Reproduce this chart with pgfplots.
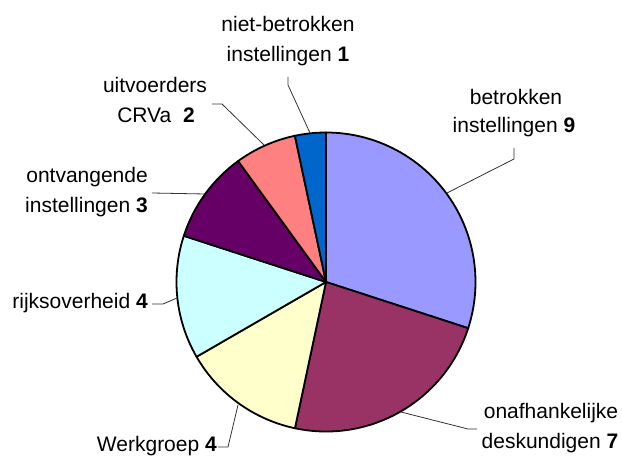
\documentclass[border=0pt]{standalone}
\usepackage{pgfplots}
\pgfplotsset{compat=1.18}
\usepackage{fontspec}
\setmainfont{Liberation Sans}
\definecolor{cA}{HTML}{9999FF}
\definecolor{cB}{HTML}{993366}
\definecolor{cC}{HTML}{FFFFCC}
\definecolor{cD}{HTML}{CCFFFF}
\definecolor{cE}{HTML}{660066}
\definecolor{cF}{HTML}{FF8080}
\definecolor{cG}{HTML}{0066CC}
\definecolor{lead}{HTML}{333333}
\tikzset{lbl/.style={inner sep=0pt,font=\fontsize{21}{25}\selectfont}}
\begin{document}
\begin{tikzpicture}
\begin{axis}[x=1pt,y=1pt,xmin=0,xmax=622,ymin=0,ymax=457,y dir=reverse,
  hide axis,clip=false,scale only axis]
% slices: value/colour, total 30, start at top, clockwise
\foreach \v/\c [remember=\e as \s (initially 90)] in {9/cA,7/cB,4/cC,4/cD,3/cE,2/cF,1/cG}{
  \pgfmathsetmacro\e{\s-\v/30*360}
  \edef\temp{\noexpand\filldraw[fill=\c,draw=black,line width=1.8pt,line join=round]
    (axis cs:326,282) -- ++(\s:149.5pt) arc[start angle=\s,end angle=\e,radius=149.5pt] -- cycle;}
  \temp
}
% leader lines
\addplot[lead,line width=0.8pt] coordinates {(514,148) (514,159) (447,193)};
\addplot[lead,line width=0.8pt] coordinates {(401,412) (468,429) (477,429)};
\addplot[lead,line width=0.8pt] coordinates {(218,447) (228,447) (238,405)};
\addplot[lead,line width=0.8pt] coordinates {(152,304) (163,304) (177,298)};
\addplot[lead,line width=0.8pt] coordinates {(152,193) (205,194)};
\addplot[lead,line width=0.8pt] coordinates {(212,104) (222,104) (264,145)};
\addplot[lead,line width=0.8pt] coordinates {(288,77) (288,85) (310,133)};
% labels
\node[lbl,anchor=base] at (axis cs:516,105) {betrokken};
\node[lbl,anchor=base] at (axis cs:514,133) {instellingen \textbf{9}};
\node[lbl,anchor=base] at (axis cs:551,419) {onafhankelijke};
\node[lbl,anchor=base] at (axis cs:550,449) {deskundigen \textbf{7}};
\node[lbl,anchor=base east] at (axis cs:217,451) {Werkgroep \textbf{4}};
\node[lbl,anchor=base east] at (axis cs:148,309) {rijksoverheid \textbf{4}};
\node[lbl,anchor=base east] at (axis cs:148,183) {ontvangende};
\node[lbl,anchor=base east] at (axis cs:148,213) {instellingen \textbf{3}};
\node[lbl,anchor=base] at (axis cs:155,93) {uitvoerders};
\node[lbl,anchor=base] at (axis cs:156,123) {CRVa\ \ \textbf{2}};
\node[lbl,anchor=base] at (axis cs:288,32) {niet-betrokken};
\node[lbl,anchor=base] at (axis cs:288,62) {instellingen \textbf{1}};
\end{axis}
\pgfresetboundingbox
\useasboundingbox (current axis.south west) rectangle (current axis.north east);
\end{tikzpicture}
\end{document}
